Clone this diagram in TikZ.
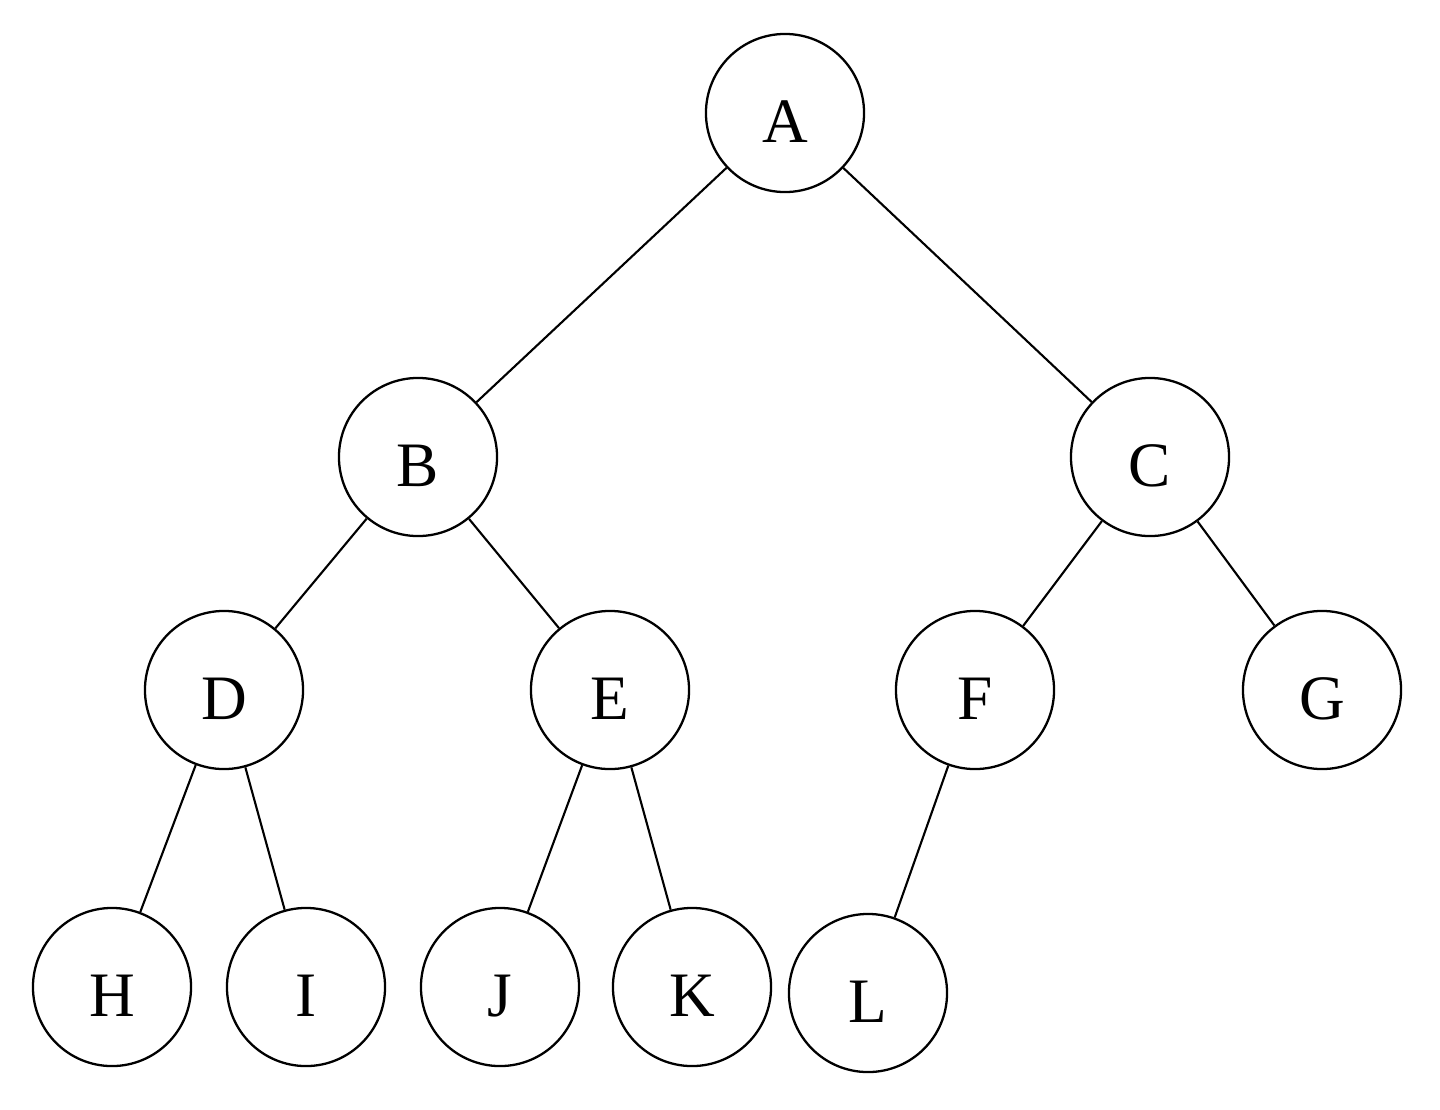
\documentclass[tikz,border=0pt]{standalone}
\usepackage{fontspec}
\setmainfont{Liberation Serif}
\begin{document}
\begin{tikzpicture}[x=0.01cm,y=-0.01cm,
  treenode/.style={circle,draw,line width=0.65pt,minimum size=1.58cm,inner sep=0pt,
    text height=17pt,text depth=0pt,font=\fontsize{18}{21}\selectfont},
  edge/.style={line width=0.6pt}]
\useasboundingbox (0,0) rectangle (1440,1109);
\node[treenode] (A) at (785,113) {A};
\node[treenode] (B) at (418,457) {B};
\node[treenode] (C) at (1150,457) {C};
\node[treenode] (D) at (224,690) {D};
\node[treenode] (E) at (610,690) {E};
\node[treenode] (F) at (975,690) {F};
\node[treenode] (G) at (1322,690) {G};
\node[treenode] (H) at (112,987) {H};
\node[treenode] (I) at (306,987) {I};
\node[treenode] (J) at (500,987) {J};
\node[treenode] (K) at (692,987) {K};
\node[treenode] (L) at (868,993) {L};
\draw[edge] (A) -- (B);
\draw[edge] (A) -- (C);
\draw[edge] (B) -- (D);
\draw[edge] (B) -- (E);
\draw[edge] (C) -- (F);
\draw[edge] (C) -- (G);
\draw[edge] (D) -- (H);
\draw[edge] (D) -- (I);
\draw[edge] (E) -- (J);
\draw[edge] (E) -- (K);
\draw[edge] (F) -- (L);
\end{tikzpicture}
\end{document}
